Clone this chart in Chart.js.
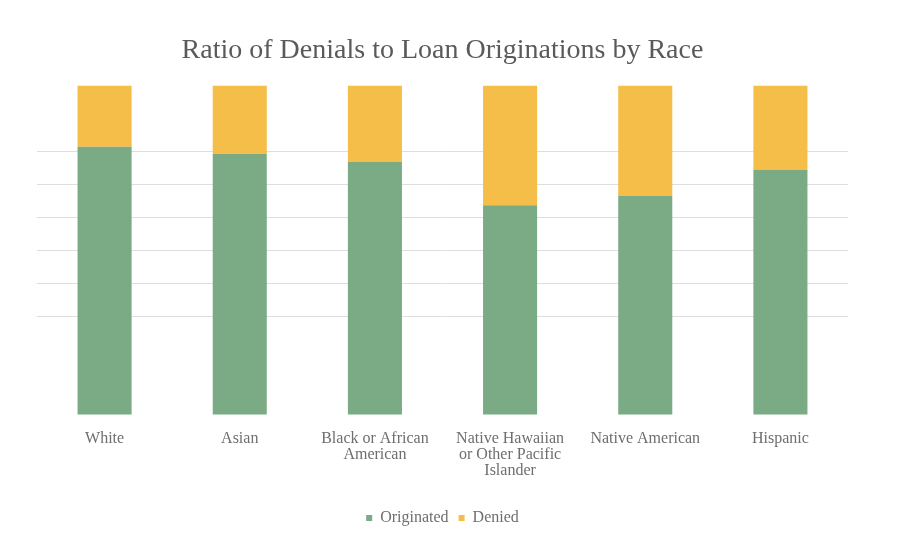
<!DOCTYPE html>
<html>
<head>
<meta charset="utf-8">
<script src="https://cdn.jsdelivr.net/npm/chart.js@4"></script>
<style>
  html, body { margin: 0; padding: 0; background: #ffffff; }
  #wrap { width: 900px; height: 544px; }
</style>
</head>
<body>
<div id="wrap"><canvas id="c" width="900" height="544"></canvas></div>
<script>
// Share of applications by outcome (percent), per race group
const categories = [
  'White',
  'Asian',
  ['Black or African', 'American'],
  ['Native Hawaiian', 'or Other Pacific', 'Islander'],
  'Native American',
  'Hispanic'
];
const originated = [81.4, 79.3, 76.8, 63.7, 66.5, 74.4];
const denied = [18.6, 20.7, 23.2, 36.3, 33.5, 25.6];
const seriesNames = ['Originated', 'Denied'];

const serif = "'Liberation Serif', 'DejaVu Serif', serif";
const textGray = '#6e6e6e';

new Chart(document.getElementById('c'), {
  type: 'bar',
  data: {
    labels: categories,
    datasets: [
      { label: seriesNames[0], data: originated, backgroundColor: '#7bab85', borderWidth: 0 },
      { label: seriesNames[1], data: denied, backgroundColor: '#f5be48', borderWidth: 0 }
    ]
  },
  options: {
    responsive: false,
    animation: false,
    devicePixelRatio: 1,
    layout: { padding: { left: 37, right: 52, top: 34, bottom: 8 } },
    datasets: { bar: { barPercentage: 0.4, categoryPercentage: 1.0 } },
    scales: {
      x: {
        stacked: true,
        grid: { display: false },
        border: { display: false },
        ticks: {
          color: textGray,
          font: { family: serif, size: 16, lineHeight: 1.0 },
          maxRotation: 0,
          autoSkip: false,
          padding: 8
        },
        afterFit: scale => { scale.height += 13; }
      },
      y: {
        stacked: true,
        min: 0,
        max: 100,
        ticks: { display: false, stepSize: 10 },
        border: { display: false },
        grid: {
          drawTicks: false,
          color: ctx => (ctx.tick && ctx.tick.value >= 30 && ctx.tick.value <= 80) ? '#dedede' : 'rgba(0,0,0,0)'
        }
      }
    },
    plugins: {
      title: {
        display: true,
        text: 'Ratio of Denials to Loan Originations by Race',
        color: '#5a5a5a',
        font: { family: serif, size: 28, weight: 'normal' },
        padding: { top: 0, bottom: 18 }
      },
      legend: {
        position: 'bottom',
        labels: {
          color: textGray,
          font: { family: serif, size: 16 },
          boxWidth: 6,
          boxHeight: 6,
          padding: 10
        }
      },
      tooltip: { enabled: false }
    }
  }
});
</script>
</body>
</html>
